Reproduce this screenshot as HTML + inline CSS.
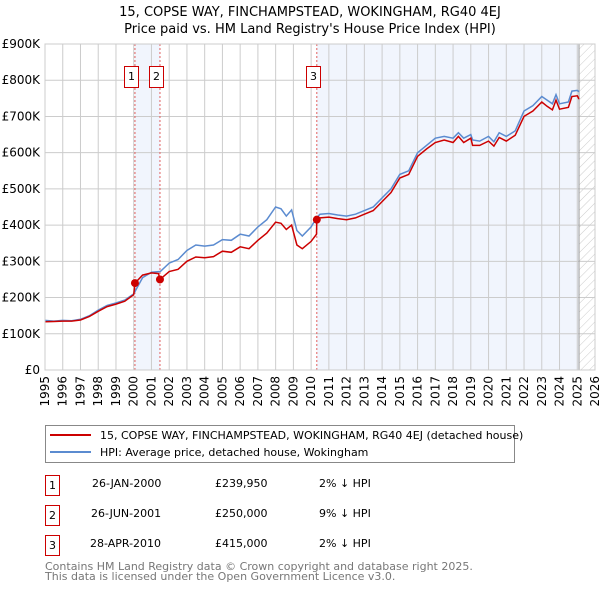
<!DOCTYPE html>
<html><head><meta charset="utf-8"><style>
body{margin:0;background:#fff;}
text{font-family:"DejaVu Sans","Liberation Sans",sans-serif;}
</style></head><body>
<svg id="chart" width="600" height="590" xmlns="http://www.w3.org/2000/svg">
<text x="310" y="16" text-anchor="middle" font-size="13">15, COPSE WAY, FINCHAMPSTEAD, WOKINGHAM, RG40 4EJ</text>
<text x="310" y="33" text-anchor="middle" font-size="13">Price paid vs. HM Land Registry's House Price Index (HPI)</text>
<defs><pattern id="hatch" width="6" height="6" patternUnits="userSpaceOnUse" patternTransform="rotate(45)"><line x1="0" y1="0" x2="0" y2="6" stroke="#ccc" stroke-width="1"/></pattern></defs>
<g id="bg"></g><g id="grid"></g><g id="lines"></g><g id="marks"></g>
<rect x="45.5" y="425.5" width="469" height="37" fill="#fff" stroke="#888"/>
<line x1="50" y1="435" x2="91" y2="435" stroke="#cc0000" stroke-width="2"/>
<text x="100" y="439" font-size="11">15, COPSE WAY, FINCHAMPSTEAD, WOKINGHAM, RG40 4EJ (detached house)</text>
<line x1="50" y1="452" x2="91" y2="452" stroke="#5b8bd0" stroke-width="2"/>
<text x="100" y="456" font-size="11">HPI: Average price, detached house, Wokingham</text>
<g font-size="11">
<rect x="45.5" y="475.5" width="14" height="20" fill="#fff" stroke="#cc0000"/><text x="52.5" y="489" text-anchor="middle">1</text>
<text x="92" y="487">26-JAN-2000</text><text x="215" y="487">£239,950</text><text x="319" y="487">2% ↓ HPI</text>
<rect x="45.5" y="505.5" width="14" height="20" fill="#fff" stroke="#cc0000"/><text x="52.5" y="519" text-anchor="middle">2</text>
<text x="91" y="517">26-JUN-2001</text><text x="215" y="517">£250,000</text><text x="319" y="517">9% ↓ HPI</text>
<rect x="45.5" y="535.5" width="14" height="20" fill="#fff" stroke="#cc0000"/><text x="52.5" y="549" text-anchor="middle">3</text>
<text x="90" y="547">28-APR-2010</text><text x="215" y="547">£415,000</text><text x="319" y="547">2% ↓ HPI</text>
</g>
<text x="45" y="570" font-size="11" fill="#777">Contains HM Land Registry data © Crown copyright and database right 2025.</text>
<text x="45" y="580" font-size="11" fill="#777">This data is licensed under the Open Government Licence v3.0.</text>
</svg>
<script>
const hpiT=[1995,1995.5,1996,1996.5,1997,1997.5,1998,1998.5,1999,1999.5,2000,2000.5,2001,2001.5,2002,2002.5,2003,2003.5,2004,2004.5,2005,2005.5,2006,2006.5,2007,2007.5,2008,2008.3,2008.6,2008.9,2009.2,2009.5,2010,2010.3,2010.5,2011,2011.5,2012,2012.5,2013,2013.5,2014,2014.5,2015,2015.5,2016,2016.5,2017,2017.5,2018,2018.3,2018.6,2019,2019.1,2019.5,2020,2020.3,2020.6,2021,2021.5,2022,2022.5,2023,2023.3,2023.6,2023.8,2024,2024.5,2024.7,2025,2025.1];
const hpiV=[137,135,137,136,140,150,165,178,185,193,210,255,270,272,295,305,330,345,342,345,360,358,375,370,395,415,450,445,425,442,385,370,395,420,430,432,428,425,430,440,450,475,500,540,550,600,620,640,645,640,655,640,650,635,632,645,630,655,645,660,715,730,755,745,735,760,735,740,770,772,768];
const redT=[1995,1995.5,1996,1996.5,1997,1997.5,1998,1998.5,1999,1999.5,2000,2000.07,2000.5,2001,2001.4,2001.48,2002,2002.5,2003,2003.5,2004,2004.5,2005,2005.5,2006,2006.5,2007,2007.5,2008,2008.3,2008.6,2008.9,2009.2,2009.5,2010,2010.3,2010.32,2010.5,2011,2011.5,2012,2012.5,2013,2013.5,2014,2014.5,2015,2015.5,2016,2016.5,2017,2017.5,2018,2018.3,2018.6,2019,2019.1,2019.5,2020,2020.3,2020.6,2021,2021.5,2022,2022.5,2023,2023.3,2023.6,2023.8,2024,2024.5,2024.7,2025,2025.1];
const redV=[133,134,135,135,138,148,162,175,182,190,208,240,262,268,266,250,272,278,300,312,310,313,328,325,340,335,358,378,408,405,388,400,345,335,355,375,415,420,422,418,415,420,430,440,465,490,530,540,590,610,628,635,628,645,628,640,620,620,632,618,642,632,648,700,715,740,728,718,745,720,725,755,757,748];
const saleT=[2000.07,2001.48,2010.32];
const saleV=[239.95,250,415];
const saleLabels=["1","2","3"];
const yTicks=[0,100,200,300,400,500,600,700,800,900];
const yTickLabels=["£0","£100K","£200K","£300K","£400K","£500K","£600K","£700K","£800K","£900K"];
const xYears=[1995,1996,1997,1998,1999,2000,2001,2002,2003,2004,2005,2006,2007,2008,2009,2010,2011,2012,2013,2014,2015,2016,2017,2018,2019,2020,2021,2022,2023,2024,2025,2026];
const dataEnd=2025.1;
const NS="http://www.w3.org/2000/svg";
const X=t=>45+(t-1995)*(550/31);
const Y=v=>370-v*(326/900);
function mk(tag,attrs,parent){const e=document.createElementNS(NS,tag);for(const k in attrs)e.setAttribute(k,attrs[k]);document.getElementById(parent).appendChild(e);return e;}
let b=mk('rect',{x:X(saleT[0]),y:44,width:X(saleT[1])-X(saleT[0]),height:326,fill:'#eef3fc',opacity:0.8},'bg');


b=mk('rect',{x:X(saleT[2]),y:44,width:X(dataEnd)-X(saleT[2]),height:326,fill:'#eef3fc',opacity:0.8},'bg');


b=mk('rect',{x:X(dataEnd),y:44,width:X(2026)-X(dataEnd),height:326,fill:'url(#hatch)'},'bg');


yTicks.forEach((v,i)=>{
 const l=mk('line',{x1:45,x2:595,y1:Y(v),y2:Y(v),stroke:'#ccc'},'grid');
 
 
 const t=mk('text',{x:40,y:Y(v)+4,'text-anchor':'end','font-size':12},'grid');
 
 
 t.textContent=yTickLabels[i];
});
xYears.forEach(yr=>{
 const l=mk('line',{x1:X(yr),x2:X(yr),y1:44,y2:370,stroke:'#ccc'},'grid');
 
 
 const t=mk('text',{x:0,y:0,'text-anchor':'end','font-size':12,transform:`translate(${X(yr)+4},376) rotate(-90)`},'grid');
 
 
 t.textContent=yr;
});
let ax=mk('line',{x1:X(dataEnd),x2:X(dataEnd),y1:44,y2:370,stroke:'#999'},'grid');


saleT.forEach((t,i)=>{
 const l=mk('line',{x1:X(t),x2:X(t),y1:44,y2:370,stroke:'#e06060','stroke-dasharray':'2,2'},'grid');
 
 
});
function path(T,V){return T.map((t,i)=>(i?'L':'M')+X(t).toFixed(1)+','+Y(V[i]).toFixed(1)).join('');}
let p=mk('path',{d:path(hpiT,hpiV),fill:'none',stroke:'#5b8bd0','stroke-width':1.5},'lines');


p=mk('path',{d:path(redT,redV),fill:'none',stroke:'#cc0000','stroke-width':1.5},'lines');


saleT.forEach((t,i)=>{
 const c=mk('circle',{cx:X(t),cy:Y(saleV[i]),r:4,fill:'#cc0000'},'marks');
 
 
 const r=mk('rect',{x:Math.round(X(t))-10.5,y:66.5,width:14,height:21,fill:'#fff',stroke:'#cc0000'},'marks');
 
 
 const tx=mk('text',{x:Math.round(X(t))-3.5,y:80,'text-anchor':'middle','font-size':11},'marks');
 
 
 tx.textContent=saleLabels[i];
});
let fr=mk('rect',{x:45,y:44,width:550,height:326,fill:'none',stroke:'#ccc'},'marks');


</script>
</body></html>
